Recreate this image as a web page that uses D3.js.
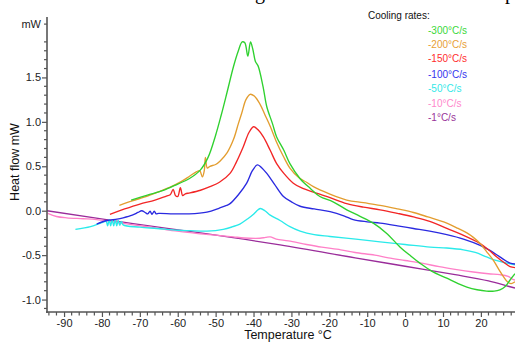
<!DOCTYPE html>
<html>
<head>
<meta charset="utf-8">
<script src="https://cdn.jsdelivr.net/npm/d3@7/dist/d3.min.js"></script>
<style>
  html, body { margin: 0; padding: 0; background: #fff; }
  svg { display: block; }
</style>
</head>
<body>
<div id="display"></div>
<script>
// cooling-rate DSC curves, [temperature °C, heat flow mW]
const rate300 = [[-72.3, 0.12], [-68, 0.175], [-64, 0.225], [-60, 0.3], [-57, 0.36], [-54, 0.46],
  [-52, 0.6], [-50, 0.85], [-48.5, 1.08], [-47, 1.33], [-45.3, 1.62], [-44, 1.8], [-43, 1.9],
  [-42.3, 1.89], [-41.5, 1.74], [-40.8, 1.9], [-40.2, 1.82], [-39.5, 1.68], [-38.8, 1.63],
  [-37.5, 1.4], [-36.5, 1.17], [-35, 0.98], [-33.9, 0.83], [-32, 0.68], [-30.4, 0.53],
  [-27.7, 0.36], [-25, 0.25], [-22.5, 0.16], [-19, 0.1], [-15.4, 0.01], [-12, -0.06],
  [-8.4, -0.14], [-5, -0.25], [-1.3, -0.41], [1.5, -0.51], [3.9, -0.59], [7, -0.68],
  [11, -0.76], [14, -0.82], [16.3, -0.86], [19, -0.89], [21.5, -0.905], [23.5, -0.905],
  [25, -0.89], [26.5, -0.85], [27.7, -0.78], [29, -0.71]];

const rate200 = [[-75.4, 0.06], [-72, 0.11], [-68, 0.165], [-65.5, 0.205], [-62, 0.265],
  [-59, 0.33], [-56.8, 0.39], [-55, 0.44], [-54.2, 0.45], [-53.5, 0.38], [-53, 0.45],
  [-52.7, 0.6], [-52.2, 0.48], [-51.5, 0.5], [-50, 0.52], [-48.8, 0.56], [-47, 0.65],
  [-45.3, 0.8], [-44, 0.98], [-43.1, 1.1], [-42, 1.25], [-40.9, 1.31], [-39.8, 1.29],
  [-38.3, 1.2], [-37, 1.08], [-35.6, 0.95], [-34, 0.78], [-32.1, 0.61], [-30.4, 0.48],
  [-28, 0.37], [-26, 0.32], [-24.2, 0.27], [-20, 0.19], [-15.4, 0.12], [-11, 0.09],
  [-6.6, 0.06], [-2, 0.02], [2.2, -0.02], [6, -0.07], [11, -0.14], [14, -0.2], [16.3, -0.25],
  [18, -0.3], [19.8, -0.37], [21.5, -0.46], [23.3, -0.56], [25, -0.68], [25.9, -0.74],
  [27, -0.8], [28, -0.82], [29, -0.8]];

const rate150 = [[-77.9, -0.04], [-74, 0.02], [-70, 0.075], [-66, 0.12], [-63, 0.165],
  [-62, 0.18], [-61.2, 0.24], [-60.6, 0.17], [-60, 0.16], [-59.3, 0.26], [-58.7, 0.17],
  [-58, 0.19], [-56.8, 0.2], [-54, 0.23], [-51.5, 0.27], [-49, 0.32], [-46.2, 0.42],
  [-44.5, 0.55], [-42.7, 0.72], [-41.2, 0.88], [-40, 0.945], [-38.8, 0.91], [-37.4, 0.83],
  [-35.6, 0.68], [-33.9, 0.53], [-32, 0.42], [-29.5, 0.31], [-27, 0.25], [-24.2, 0.21],
  [-20, 0.15], [-15.4, 0.08], [-11, 0.04], [-6.6, 0.01], [-2, -0.03], [2.2, -0.07],
  [6.5, -0.12], [11, -0.2], [15, -0.27], [19.8, -0.37], [22, -0.44], [24.2, -0.52],
  [26, -0.58], [27.7, -0.63], [29, -0.64]];

const rate100 = [[-81.4, -0.15], [-78.7, -0.11], [-76, -0.095], [-74.4, -0.08], [-72, -0.05],
  [-70.5, -0.02], [-69.5, 0.0], [-68.6, -0.02], [-67.9, -0.035], [-67.3, -0.005], [-66.8, -0.04],
  [-66.2, -0.005], [-65.7, -0.035], [-65, -0.03], [-61.2, -0.035], [-57, -0.035],
  [-52.3, -0.015], [-49, 0.03], [-47.1, 0.06], [-46.2, 0.08], [-44, 0.18], [-41.8, 0.31],
  [-40.3, 0.45], [-39, 0.515], [-38, 0.49], [-36.5, 0.42], [-34.5, 0.3], [-32.1, 0.16],
  [-30, 0.1], [-27.7, 0.05], [-24, 0.02], [-19.8, -0.01], [-16, -0.06], [-13.7, -0.1],
  [-10, -0.125], [-6.6, -0.14], [-2, -0.17], [2.2, -0.2], [6.5, -0.23], [11, -0.27],
  [15.4, -0.32], [19.8, -0.39], [22.5, -0.45], [25, -0.52], [27.7, -0.59], [29, -0.6]];

const rate50 = [[-87, -0.21], [-83, -0.18], [-80, -0.135], [-78.9, -0.12], [-78.5, -0.17],
  [-78.1, -0.1], [-77.7, -0.17], [-77.3, -0.1], [-76.9, -0.17], [-76.5, -0.105],
  [-76.1, -0.17], [-75.7, -0.11], [-75.3, -0.165], [-74.9, -0.12], [-74.4, -0.16],
  [-70, -0.185], [-65.5, -0.2], [-60, -0.22], [-56.8, -0.225], [-52.3, -0.23], [-48, -0.21],
  [-45.5, -0.18], [-43.6, -0.15], [-41.5, -0.09], [-40, -0.04], [-38.8, 0.01], [-38.2, 0.025],
  [-37, 0.0], [-35.6, -0.05], [-33, -0.11], [-30.4, -0.18], [-27.7, -0.23], [-24, -0.27],
  [-19.8, -0.29], [-13, -0.32], [-6.6, -0.35], [0, -0.38], [6.6, -0.41], [11, -0.42],
  [15.4, -0.44], [18.5, -0.47], [21.5, -0.52], [24, -0.56], [26.8, -0.59], [29, -0.61]];

const rate10 = [[-94.3, -0.03], [-92, -0.065], [-89.3, -0.08], [-85, -0.09], [-81.4, -0.1],
  [-76, -0.13], [-71.7, -0.16], [-67, -0.185], [-62.9, -0.215], [-58, -0.24], [-54.1, -0.26],
  [-50, -0.275], [-45.3, -0.295], [-41, -0.31], [-38.3, -0.31], [-36.8, -0.3], [-35.6, -0.295],
  [-34, -0.32], [-30.8, -0.34], [-26, -0.38], [-22, -0.41], [-17, -0.44], [-13.2, -0.47],
  [-8, -0.5], [-4.4, -0.53], [0, -0.56], [4.4, -0.59], [9, -0.63], [13.2, -0.66], [18, -0.69],
  [22, -0.71], [25, -0.72], [27.2, -0.74], [28.3, -0.77], [29, -0.78]];

const rate1 = [[-94.6, 0.0], [-71.8, -0.145], [-54, -0.25], [-33, -0.385], [-13.2, -0.53],
  [0, -0.625], [13.2, -0.72], [22, -0.79], [27.2, -0.85], [29, -0.87]];

const seriesData = [rate300, rate200, rate150, rate100, rate50, rate10, rate1];
const legendLabels = ['-300°C/s', '-200°C/s', '-150°C/s', '-100°C/s', '-50°C/s', '-10°C/s', '-1°C/s'];
const lineColors = ['#2fd12f', '#e39d2f', '#f22626', '#2a2ae0', '#2aeaea', '#ff80c8', '#9a2c9a'];
const legendColors = ['#3ad83a', '#e8a035', '#ff2d2d', '#3434ee', '#33e8e8', '#ff88cc', '#993399'];

const xMajor = d3.range(-90, 21, 10);
const xMinor = d3.range(-94, 29, 2);
const yMajor = [-1.0, -0.5, 0.0, 0.5, 1.0, 1.5];
const yMinor = d3.range(-11, 22).map((d) => d / 10);

const W = 515;
const H = 342;
const font = '"Liberation Sans", Arial, sans-serif';

const svg = d3.select('#display').append('svg')
    .attr('width', W)
    .attr('height', H);

const x = d3.scaleLinear().domain([-94.5, 29]).range([47, 515]);
const y = d3.scaleLinear().domain([-1.14, 2.18]).range([312, 17]);

// cut-off caption letters from the page above
svg.append('text').attr('x', 255).attr('y', -1)
    .style('font', '20px "Liberation Serif", serif').text('g');
svg.append('text').attr('x', 505).attr('y', -1)
    .style('font', '20px "Liberation Serif", serif').text('p');

// curves
const line = d3.line()
    .x((d) => x(d[0]))
    .y((d) => y(d[1]))
    .curve(d3.curveCatmullRom.alpha(0.5));

const plot = svg.append('g');
plot.append('clipPath').attr('id', 'clip')
    .append('rect').attr('x', 47).attr('y', 10).attr('width', 470).attr('height', 302);

plot.selectAll('path.curve')
    .data(seriesData.slice().reverse())
    .enter()
    .append('path')
    .attr('class', 'curve')
    .attr('clip-path', 'url(#clip)')
    .attr('fill', 'none')
    .attr('stroke', (d, i) => lineColors[lineColors.length - 1 - i])
    .attr('stroke-width', 1.35)
    .attr('d', line);

// axes
const axisColor = '#555';
const xAxis = d3.axisBottom(x).tickValues(xMajor).tickSize(5).tickPadding(2)
    .tickFormat(d3.format('d'));
const gx = svg.append('g').attr('transform', 'translate(0,312)').call(xAxis);
gx.select('.domain').remove();
gx.selectAll('line').attr('stroke', axisColor).attr('stroke-width', 1.2);
gx.selectAll('text').style('font', '11px ' + font).attr('fill', '#222')
    .text((d) => String(d).replace('−', '-'));

svg.append('g').selectAll('line')
    .data(xMinor.filter((d) => d % 10 !== 0))
    .enter().append('line')
    .attr('x1', (d) => x(d)).attr('x2', (d) => x(d))
    .attr('y1', 312).attr('y2', 315.5)
    .attr('stroke', axisColor).attr('stroke-width', 1.2);

const yAxis = d3.axisLeft(y).tickValues(yMajor).tickSize(5).tickPadding(1)
    .tickFormat((d) => d3.format('.1f')(d).replace('−', '-'));
const gy = svg.append('g').attr('transform', 'translate(47,0)').call(yAxis);
gy.select('.domain').remove();
gy.selectAll('line').attr('stroke', axisColor).attr('stroke-width', 1.2);
gy.selectAll('text').style('font', '11px ' + font).attr('fill', '#222');

svg.append('g').selectAll('line')
    .data(yMinor.filter((d) => Math.round(d * 10) % 5 !== 0))
    .enter().append('line')
    .attr('x1', 44).attr('x2', 47)
    .attr('y1', (d) => y(d)).attr('y2', (d) => y(d))
    .attr('stroke', axisColor).attr('stroke-width', 1.2);

svg.append('line')
    .attr('x1', 47).attr('x2', 47).attr('y1', 17).attr('y2', 313)
    .attr('stroke', axisColor).attr('stroke-width', 1.6);
svg.append('line')
    .attr('x1', 46).attr('x2', 515).attr('y1', 312).attr('y2', 312)
    .attr('stroke', axisColor).attr('stroke-width', 1.6);

svg.append('text').attr('x', 41).attr('y', 28)
    .attr('text-anchor', 'end')
    .style('font', '11px ' + font).attr('fill', '#222').text('mW');

// axis titles
svg.append('text')
    .attr('transform', 'translate(18.5,162) rotate(-90)')
    .attr('text-anchor', 'middle')
    .style('font', '12.5px ' + font).attr('fill', '#111')
    .text('Heat flow mW');
svg.append('text')
    .attr('x', 288).attr('y', 339)
    .attr('text-anchor', 'middle')
    .style('font', '12.5px ' + font).attr('fill', '#111')
    .text('Temperature °C');

// legend
svg.append('text').attr('x', 368).attr('y', 19)
    .style('font', '10px ' + font).attr('fill', '#111').text('Cooling rates:');
const legendY = [34, 48, 62, 78, 92, 107, 121];
svg.append('g').selectAll('text')
    .data(legendLabels)
    .enter().append('text')
    .attr('x', 428)
    .attr('y', (d, i) => legendY[i])
    .style('font', '10px ' + font)
    .attr('fill', (d, i) => legendColors[i])
    .text((d) => d);
</script>
</body>
</html>
